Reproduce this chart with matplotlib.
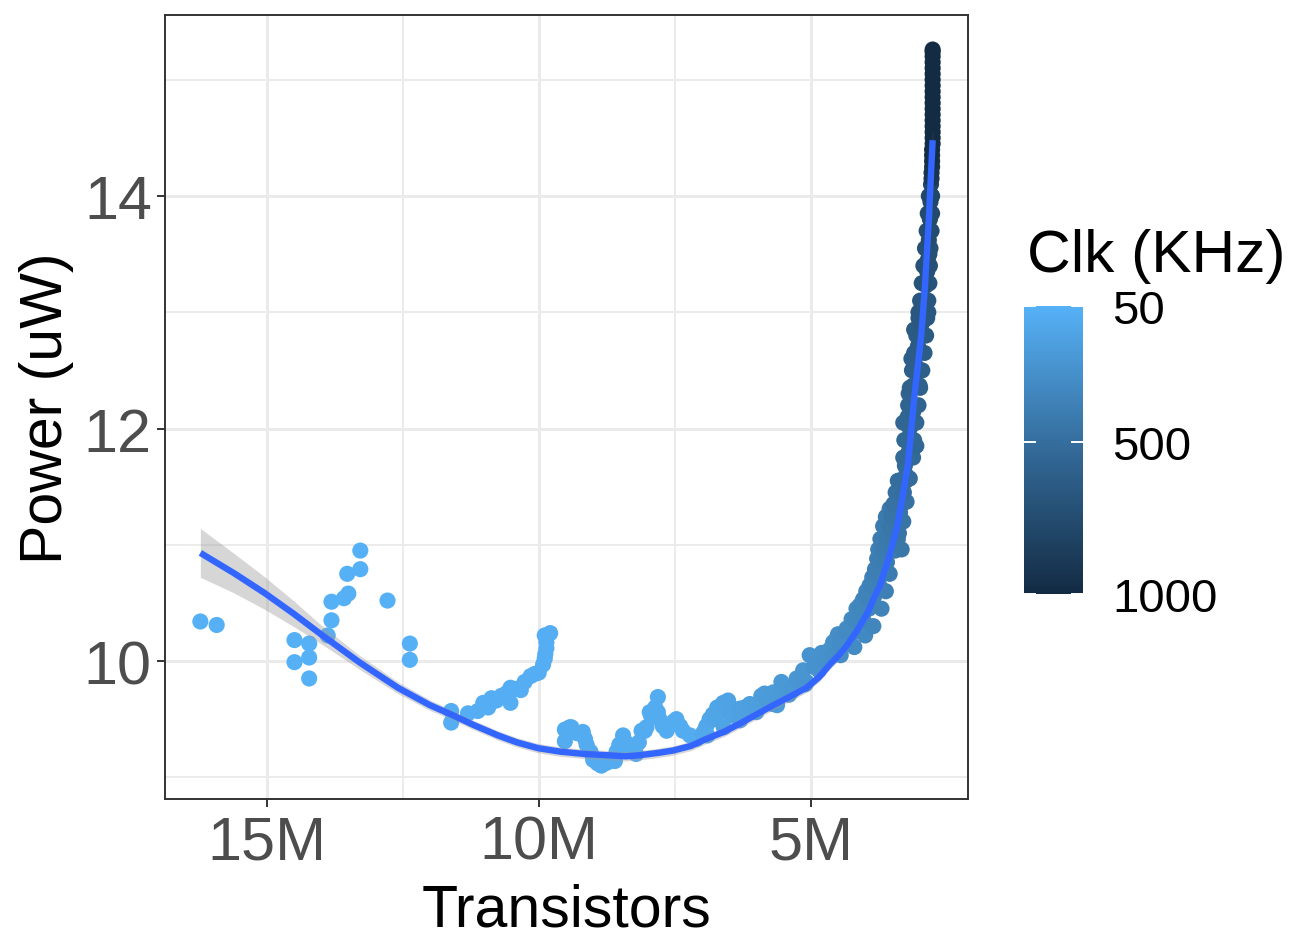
import matplotlib
matplotlib.use("Agg")
import matplotlib.pyplot as plt
import numpy as np
from matplotlib.colors import LinearSegmentedColormap, Normalize
from matplotlib.ticker import FixedLocator, FuncFormatter

plt.rcParams['font.family'] = ['Liberation Sans', 'DejaVu Sans']

# ---------------- data (transistors in millions, power in uW, clock in KHz) -------------
transistors_far = [16.22, 15.92, 14.49, 14.49, 14.22, 14.22, 14.22, 13.88, 13.81, 13.81,
                   13.58, 13.50, 13.52, 13.28, 13.28, 12.78, 12.37, 12.37]
power_far = [10.34, 10.31, 10.18, 9.99, 10.15, 10.03, 9.85, 10.22, 10.35, 10.51,
             10.54, 10.58, 10.75, 10.79, 10.95, 10.52, 10.15, 10.01]
clk_far = [60] * 18

transistors_arc = [11.61, 11.61, 11.30, 11.12, 11.02, 10.93, 10.87, 10.78, 10.69, 10.60,
                   10.52, 10.52, 10.42, 10.33, 10.26, 10.15, 10.07, 10.00, 9.92, 9.89,
                   9.88, 9.86, 9.86, 9.89, 9.79]
power_arc = [9.57, 9.47, 9.55, 9.57, 9.64, 9.60, 9.68, 9.66, 9.70, 9.72,
             9.64, 9.77, 9.76, 9.75, 9.82, 9.87, 9.89, 9.90, 9.97, 10.02,
             10.06, 10.11, 10.16, 10.22, 10.24]
clk_arc = [70] * 25

transistors_min = [9.52, 9.43, 9.40, 9.52, 9.30, 9.19, 9.15, 9.12, 9.05, 9.00,
                   8.92, 8.85, 8.78, 8.73, 8.66, 8.60, 8.57, 8.52, 8.45, 8.40,
                   8.33, 8.27, 8.21, 8.16, 8.11, 8.05, 8.02, 7.96, 7.93, 7.86,
                   7.81, 7.81, 7.78, 7.72, 7.65, 7.60, 7.52, 7.47, 7.40, 7.35,
                   7.22, 7.10]
power_min = [9.41, 9.43, 9.43, 9.31, 9.38, 9.39, 9.33, 9.28, 9.22, 9.15,
             9.12, 9.10, 9.12, 9.13, 9.15, 9.14, 9.22, 9.28, 9.36, 9.30,
             9.23, 9.22, 9.20, 9.30, 9.40, 9.40, 9.43, 9.56, 9.52, 9.60,
             9.69, 9.56, 9.50, 9.44, 9.40, 9.45, 9.48, 9.50, 9.44, 9.40,
             9.36, 9.33]
clk_min = [85] * 42

transistors_rise = [6.98, 6.92, 6.86, 6.80, 6.72, 6.61, 6.52, 6.43, 6.31, 6.22,
                    6.12, 6.00, 5.91, 5.85, 5.69, 5.62, 5.54, 5.45, 5.33, 5.26,
                    5.14, 5.08, 5.02, 4.92, 4.80, 4.72, 4.65, 4.59, 4.53, 4.50,
                    6.90, 6.60, 6.30, 6.00, 5.70, 5.40, 5.10, 4.85,
                    6.95, 6.75, 6.50, 6.25, 6.05, 5.80, 5.60, 5.35, 5.20, 4.95,
                    4.75, 4.68]
power_rise = [9.38, 9.44, 9.50, 9.54, 9.60, 9.64, 9.66, 9.53, 9.59, 9.60,
              9.63, 9.59, 9.70, 9.72, 9.73, 9.62, 9.82, 9.76, 9.77, 9.85,
              9.92, 9.82, 10.05, 9.98, 10.07, 10.02, 10.10, 10.16, 10.19, 10.23,
              9.36, 9.43, 9.49, 9.56, 9.63, 9.71, 9.80, 9.92,
              9.40, 9.50, 9.55, 9.55, 9.62, 9.66, 9.70, 9.74, 9.82, 9.95,
              10.00, 10.05]
clk_rise = [110, 115, 120, 125, 130, 140, 145, 150, 160, 165,
            170, 180, 185, 190, 200, 205, 210, 220, 225, 230,
            240, 245, 250, 255, 260, 265, 270, 275, 280, 285,
            110, 140, 160, 180, 200, 225, 240, 255,
            115, 130, 150, 165, 180, 195, 205, 225, 240, 255,
            265, 270]

transistors_knee = [4.47, 4.40, 4.34, 4.25, 4.20, 4.16, 4.10, 4.04, 4.00, 3.98,
                    3.92, 3.85, 3.87, 3.82, 3.70, 3.78, 3.76, 3.62, 3.72, 3.67,
                    3.55, 3.62, 3.55, 3.45, 3.45, 3.40, 3.36, 3.33, 3.38, 3.30,
                    3.42, 3.24, 3.38, 3.30, 3.21, 3.25,
                    4.45, 4.32, 4.18, 4.03, 3.93, 3.84, 3.74, 3.67, 3.60, 3.53,
                    3.46, 3.41, 3.37, 3.33, 3.29, 3.25,
                    4.60, 4.47, 4.33, 4.18, 4.08, 3.99, 3.89, 3.82, 3.75, 3.68,
                    3.61, 3.56, 3.52, 3.48, 3.44, 3.40]
power_knee = [10.16, 10.22, 10.28, 10.36, 10.12, 10.45, 10.48, 10.53, 10.22, 10.60,
              10.65, 10.30, 10.72, 10.79, 10.45, 10.88, 10.96, 10.60, 11.05, 11.16,
              10.75, 11.24, 11.31, 10.95, 11.30, 11.05, 11.28, 10.96, 11.10, 11.20,
              11.45, 11.37, 11.55, 11.45, 11.57, 11.60,
              10.05, 10.15, 10.25, 10.35, 10.45, 10.55, 10.65, 10.75, 10.85, 10.95,
              11.05, 11.15, 11.25, 11.35, 11.45, 11.55,
              10.05, 10.15, 10.25, 10.35, 10.45, 10.55, 10.65, 10.75, 10.85, 10.95,
              11.05, 11.15, 11.25, 11.35, 11.45, 11.55]
clk_knee = [290, 295, 300, 310, 305, 320, 325, 330, 320, 340,
            350, 340, 360, 370, 360, 380, 390, 380, 400, 410,
            400, 420, 430, 420, 440, 430, 450, 440, 460, 460,
            480, 480, 490, 490, 500, 510,
            290, 300, 315, 330, 345, 360, 375, 390, 400, 415,
            430, 445, 460, 475, 490, 505,
            285, 295, 310, 325, 340, 355, 370, 385, 395, 410,
            425, 440, 455, 470, 485, 500]

transistors_top = [3.27, 3.18, 3.20, 3.28, 3.18, 3.30, 3.22, 3.12, 3.06, 3.12,
                   3.20, 3.08, 3.15, 3.03, 3.00, 3.10, 2.97, 2.96, 3.02, 2.94,
                   2.88, 2.84, 2.88, 2.86, 2.85, 2.83, 2.82, 2.81, 2.80, 2.80,
                   2.79, 2.78,
                   3.30, 3.27, 3.24, 3.21, 3.18, 3.14, 3.10, 3.06, 3.02, 2.99,
                   2.96, 2.93, 2.90, 2.87, 2.85, 2.83,
                   3.12, 3.10, 3.06, 3.02, 2.99, 2.95, 2.91, 2.88, 2.86, 2.84,
                   2.82, 2.81, 2.80, 2.78, 2.77, 2.77]
power_top = [11.68, 11.57, 11.80, 11.90, 12.00, 12.05, 12.10, 12.14, 11.85, 12.37,
             12.30, 12.55, 12.60, 12.71, 12.37, 12.85, 12.80, 12.90, 13.00, 13.06,
             13.26, 13.00, 13.23, 13.35, 13.45, 13.62, 13.50, 13.80, 13.95, 13.70,
             14.10, 14.00,
             11.75, 11.90, 12.05, 12.20, 12.35, 12.50, 12.65, 12.80, 12.95, 13.10,
             13.25, 13.40, 13.55, 13.70, 13.85, 14.00,
             11.75, 11.90, 12.05, 12.20, 12.35, 12.50, 12.65, 12.80, 12.95, 13.10,
             13.25, 13.40, 13.55, 13.70, 13.85, 14.00]
clk_top = [520, 515, 530, 540, 550, 545, 560, 570, 550, 585,
           575, 605, 615, 630, 595, 645, 640, 655, 665, 675,
           700, 665, 695, 715, 725, 745, 730, 760, 780, 750,
           800, 790,
           525, 540, 555, 570, 590, 605, 620, 640, 655, 670,
           690, 705, 720, 740, 760, 780,
           530, 545, 560, 575, 595, 610, 625, 645, 660, 675,
           695, 710, 725, 745, 765, 785]

# the highest-clock column, densely sampled
transistors_peak = [2.78, 2.78, 2.77, 2.77, 2.77, 2.77, 2.76, 2.76, 2.76, 2.76,
                    2.76, 2.76, 2.76, 2.76, 2.76, 2.76, 2.76, 2.76, 2.76, 2.76,
                    2.76, 2.76, 2.76, 2.76]
power_peak = [14.15, 14.20, 14.25, 14.30, 14.35, 14.40, 14.45, 14.50, 14.55, 14.60,
              14.65, 14.70, 14.75, 14.80, 14.85, 14.90, 14.95, 15.00, 15.05, 15.10,
              15.15, 15.20, 15.24, 15.26]
clk_peak = [900, 920, 940, 960, 975, 985, 990, 995, 1000, 1000,
            1000, 1000, 1000, 1000, 1000, 1000, 1000, 1000, 1000, 1000,
            1000, 1000, 1000, 1000]

# smoothed trend and its half-width of the confidence band
smooth_transistors = [16.22, 15.60, 15.04, 14.50, 13.99, 13.30, 12.59, 12.00, 11.61, 11.20,
                      10.75, 10.40, 10.01, 9.60, 9.15, 8.76, 8.40, 8.14, 7.80, 7.53,
                      7.20, 6.92, 6.60, 6.31, 6.00, 5.69, 5.40, 5.08, 4.85, 4.65,
                      4.50, 4.34, 4.15, 3.95, 3.85, 3.73, 3.57, 3.42, 3.31, 3.21,
                      3.09, 2.97, 2.90, 2.83, 2.76]
smooth_power = [10.93, 10.755, 10.585, 10.405, 10.225, 9.99, 9.77, 9.62, 9.54, 9.45,
                9.36, 9.30, 9.25, 9.22, 9.20, 9.19, 9.18, 9.19, 9.21, 9.23,
                9.27, 9.33, 9.39, 9.46, 9.54, 9.62, 9.69, 9.77, 9.86, 9.97,
                10.04, 10.13, 10.26, 10.42, 10.53, 10.65, 10.88, 11.14, 11.42, 11.71,
                12.30, 12.80, 13.23, 13.80, 14.48]
smooth_se = [0.21, 0.17, 0.14, 0.11, 0.08, 0.06, 0.05, 0.045, 0.04, 0.04,
             0.04, 0.04, 0.04, 0.04, 0.04, 0.04, 0.04, 0.04, 0.04, 0.04,
             0.04, 0.04, 0.04, 0.04, 0.04, 0.04, 0.04, 0.04, 0.04, 0.04,
             0.04, 0.04, 0.04, 0.04, 0.045, 0.05, 0.05, 0.05, 0.05, 0.05,
             0.06, 0.06, 0.07, 0.08, 0.10]

x_ticks = [15, 10, 5]
x_tick_labels = ["15M", "10M", "5M"]
y_ticks = [10, 12, 14]
clk_ticks = [50, 500, 1000]

# ---------------- figure -------------
W, H = 1309, 953
fig = plt.figure(figsize=(W / 100, H / 100), dpi=100)
ax = fig.add_axes([165 / W, 1 - 800 / H, (968 - 165) / W, (800 - 16) / H])

cmap = LinearSegmentedColormap.from_list("gg", ["#56B1F7", "#336A98", "#132B43"])
norm = Normalize(vmin=50, vmax=1000)

tx = np.array(transistors_far + transistors_arc + transistors_min + transistors_rise
              + transistors_knee + transistors_top + transistors_peak)
pw = np.array(power_far + power_arc + power_min + power_rise + power_knee + power_top
              + power_peak)
ck = np.array(clk_far + clk_arc + clk_min + clk_rise + clk_knee + clk_top + clk_peak)
order = np.argsort(ck, kind="stable")

sc = ax.scatter(tx[order], pw[order], c=ck[order], cmap=cmap, norm=norm, s=135,
                linewidths=0, zorder=3)

sx = np.array(smooth_transistors)
sy = np.array(smooth_power)
se = np.array(smooth_se)
ax.fill_between(sx, sy - se, sy + se, color="#999999", alpha=0.4, lw=0, zorder=4)
ax.plot(sx, sy, color="#3366FF", lw=4.6, solid_capstyle="butt",
        solid_joinstyle="round", zorder=5)

ax.set_xlim(16.87, 2.11)
ax.set_ylim(8.813, 15.557)

ax.xaxis.set_major_locator(FixedLocator(x_ticks))
ax.xaxis.set_major_formatter(FuncFormatter(
    lambda v, p: x_tick_labels[x_ticks.index(v)] if v in x_ticks else ""))
ax.xaxis.set_minor_locator(FixedLocator([12.5, 7.5]))
ax.yaxis.set_major_locator(FixedLocator(y_ticks))
ax.yaxis.set_minor_locator(FixedLocator([9, 11, 13, 15]))

ax.grid(which="major", color="#EBEBEB", lw=2.1, zorder=0)
ax.grid(which="minor", color="#EBEBEB", lw=1.4, zorder=0)
ax.set_axisbelow(True)
for s in ax.spines.values():
    s.set_color("#333333")
    s.set_linewidth(1.4)
ax.tick_params(which="major", length=5.5, width=1.4, color="#333333",
               labelsize=44, labelcolor="#4D4D4D")
ax.tick_params(axis="x", which="major", pad=6)
ax.tick_params(axis="y", which="major", pad=4)
ax.tick_params(which="minor", length=0)

fig.text(566.5 / W, 1 - 927 / H, "Transistors", ha="center", va="baseline", fontsize=42.5)
fig.text(62 / W, 1 - 408 / H, "Power (uW)", rotation=90, rotation_mode="anchor",
         ha="center", va="baseline", fontsize=42.5)

# colour bar legend
cax = fig.add_axes([1024 / W, 1 - 595 / H, 59 / W, 288 / H])
cb = fig.colorbar(sc, cax=cax)
cb.outline.set_visible(False)
cax.invert_yaxis()
cb.set_ticks(clk_ticks)
cb.set_ticklabels([str(v) for v in clk_ticks])
cax.tick_params(length=0, labelsize=34, labelcolor="black", pad=21)
cax.hlines(clk_ticks, 0, 0.2, color="white", lw=1.4, transform=cax.get_yaxis_transform())
cax.hlines(clk_ticks, 0.8, 1.0, color="white", lw=1.4, transform=cax.get_yaxis_transform())
fig.text(1027 / W, 1 - 272 / H, "Clk (KHz)", ha="left", va="baseline", fontsize=43.5)

fig.savefig("out.png", dpi=100)
